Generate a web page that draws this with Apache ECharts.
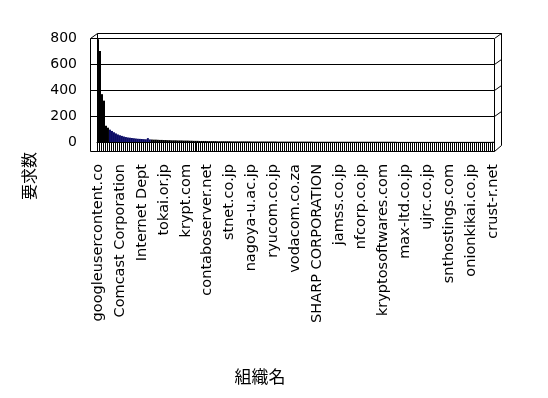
<!DOCTYPE html>
<html>
<head>
<meta charset="utf-8">
<script src="https://cdn.jsdelivr.net/npm/echarts@6/dist/echarts.min.js"></script>
<style>html,body{margin:0;padding:0;background:#fff}#c{width:548px;height:398px}</style>
</head>
<body>
<div id="c"></div>
<script>
// ---- data ----
const knownLabels = {
  0: "googleusercontent.co", 11: "Comcast Corporation", 22: "Internet Dept",
  33: "tokai.or.jp", 44: "krypt.com", 55: "contaboserver.net", 66: "stnet.co.jp",
  77: "nagoya-u.ac.jp", 88: "ryucom.co.jp", 99: "vodacom.co.za",
  110: "SHARP CORPORATION", 121: "jamss.co.jp", 132: "nfcorp.co.jp",
  143: "kryptosoftwares.com", 154: "max-ltd.co.jp", 165: "ujrc.co.jp",
  176: "snthostings.com", 187: "onionkikai.co.jp", 198: "crust-r.net"
};
const values = [
  790,700,368,318,125,110,95,85,75,66,
  58,52,47,42,38,35,33,31,29,27,
  25,24,23,22,21,30,20,19,18,18,
  17,16,16,15,15,14,14,13,13,13,
  12,12,12,11,11,11,10,10,9,9,
  9,8,8,8,8,7,7,7,7,7,
  6,6,6,6,6,6,6,5,5,5,
  5,5,5,5,5,5,5,4,4,4,
  4,4,4,4,4,4,4,4,4,4,
  3,3,3,3,3,3,3,3,3,3,
  3,3,3,3,3,3,3,3,2,2,
  2,2,2,2,2,2,2,2,2,2,
  2,2,2,2,2,2,2,2,2,2,
  2,2,2,2,2,2,2,2,2,2,
  2,2,2,2,2,2,2,2,2,2,
  1,1,1,1,1,1,1,1,1,1,
  1,1,1,1,1,1,1,1,1,1,
  1,1,1,1,1,1,1,1,1,1,
  1,1,1,1,1,1,1,1,1,1,
  1,1,1,1,1,1,1,1,1
];
const categories = values.map((v, i) => knownLabels[i] || ("org" + (i + 1)));
const yTicks = [0, 200, 400, 600, 800];
const yTitle = "要求数";
const xTitle = "組織名";

// ---- layout ----
const GL = 97, GR = 494, GT = 38, G0 = 142, GB = 151, DX = 7, DY = 5, W = 548, H = 398;
const blk = {stroke: '#000', lineWidth: 1};
function seg(x1, y1, x2, y2) {
  return {type: 'line', z: 100, shape: {x1, y1, x2, y2}, style: blk, silent: true};
}
const frame = [];
const gy = yTicks.map(t => G0 - (G0 - GT) * t / yTicks[yTicks.length - 1]);
frame.push(seg(GL - DX + 0.5, GT + 0.5, GL - DX + 0.5, GB + 0.5));   // left wall
frame.push(seg(GL - DX + 0.5, GB + 0.5, GR + 0.5, GB + 0.5));        // floor front
frame.push(seg(GR + 0.5, GT + 0.5, GR + 0.5, GB + 0.5));             // right front
frame.push(seg(GL + 0.5, GT - DY + 0.5, GR + DX + 0.5, GT - DY + 0.5)); // top back
frame.push(seg(GR + DX + 0.5, GT - DY + 0.5, GR + DX + 0.5, GB - DY - 1 + 0.5)); // right back
frame.push(seg(GL - DX + 0.5, GT + 0.5, GL + 0.5, GT - DY + 0.5));
frame.push(seg(GR + 0.5, GB + 0.5, GR + DX + 0.5, GB - DY - 1 + 0.5));
frame.push(seg(GL + 0.5, GT - DY + 0.5, GL + 0.5, G0 + 0.5));
gy.forEach(y => {
  const yy = Math.round(y) + 0.5;
  if (y > G0 - 1) return;
  frame.push(seg(GL - DX + 0.5, yy, GL + 0.5, yy));
  frame.push(seg(GR + 0.5, yy, GR + DX + 0.5, yy - DY));
});
frame.push({type: 'text', z: 100, x: 29, y: 176, rotation: Math.PI / 2,
  style: {text: yTitle, fill: '#000', font: '16px "Noto Sans CJK JP"', textAlign: 'center', textVerticalAlign: 'middle'}});
frame.push({type: 'text', z: 100, x: 260, y: 377,
  style: {text: xTitle, fill: '#000', font: '17px "Noto Sans CJK JP"', textAlign: 'center', textVerticalAlign: 'middle'}});

const chart = echarts.init(document.getElementById('c'), null, {renderer: 'canvas'});
chart.setOption({
  animation: false,
  backgroundColor: '#fff',
  grid: {left: GL, right: W - GR, top: GT, bottom: H - G0, containLabel: false},
  xAxis: {
    type: 'category',
    data: categories,
    boundaryGap: true,
    axisLine: {show: true, lineStyle: {color: '#000', width: 1}},
    axisTick: {show: true, interval: 0, length: GB - G0, lineStyle: {color: '#000', width: 1}},
    axisLabel: {interval: 10, rotate: 90, margin: 22, color: '#000', fontSize: 14.5, fontFamily: 'DejaVu Sans'},
    splitLine: {show: false}
  },
  yAxis: {
    type: 'value',
    min: yTicks[0], max: yTicks[yTicks.length - 1], interval: 200,
    axisLine: {show: false},
    axisTick: {show: false},
    axisLabel: {margin: 20, color: '#000', fontSize: 14, fontFamily: 'DejaVu Sans'},
    splitLine: {show: true, lineStyle: {color: '#000', width: 1}}
  },
  series: [{
    type: 'bar',
    data: values,
    barCategoryGap: '0%',
    itemStyle: {
      color: p => (p.dataIndex >= 6 && p.dataIndex <= 26) ? '#0c0c66' : '#000',
      borderColor: '#000', borderWidth: 0
    }
  }],
  graphic: frame
});
</script>
</body>
</html>
